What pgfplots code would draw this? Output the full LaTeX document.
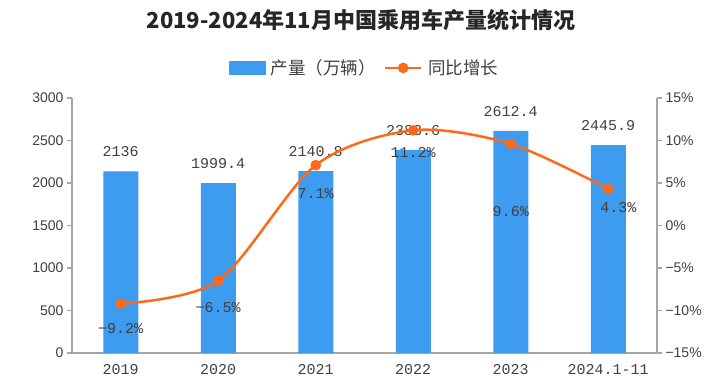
\documentclass[border=0pt]{standalone}
\usepackage{pgfplots}
\pgfplotsset{compat=1.18}
\usepackage{pgfplotstable}
\usepackage{fontspec}
\setmainfont{Liberation Sans}
\newfontfamily\cjk{Noto Sans CJK SC}
\newfontfamily\mono{Liberation Mono}
\definecolor{barblue}{HTML}{3D9BF0}
\definecolor{lineorange}{HTML}{FF6A1A}
\definecolor{axisgray}{HTML}{A6A6A6}
\definecolor{txt}{HTML}{404040}

\pgfplotstableread{
x y lab
0 2136 2136
1 1999.4 1999.4
2 2140.8 2140.8
3 2388.6 2388.6
4 2612.4 2612.4
5 2445.9 2445.9
}\prodtable

\pgfplotstableread{
x y dy dx lab
0 -9.2 -25 0 −9.2\%
1 -6.5 -27 0 −6.5\%
2 7.1 -28 0 7.1\%
3 11.2 -22 0 11.2\%
4 9.6 -68 0 9.6\%
5 4.3 -19 10 4.3\%
}\growtable

\begin{document}
\begin{tikzpicture}[x=1pt,y=1pt]
\useasboundingbox (0,0) rectangle (720,386);
\begin{axis}[
  at={(72pt,33pt)}, anchor=south west,
  scale only axis, width=585pt, height=255pt,
  xmin=-0.5, xmax=5.5, ymin=0, ymax=3000,
  axis x line*=bottom, axis y line*=left,
  axis line style={axisgray, line width=1.5pt, -},
  ytick={0,500,...,3000},
  yticklabels={0,500,1000,1500,2000,2500,3000},
  xtick={0,...,5},
  xticklabels={2019,2020,2021,2022,2023,2024.1-11},
  tick align=outside,
  major tick length=5pt,
  ytick style={axisgray, line width=1.2pt},
  xtick style={draw=none},
  yticklabel style={font=\fontsize{14}{14}\selectfont, text=txt},
  xticklabel style={font=\mono\fontsize{15}{15}\selectfont, text=txt, yshift=-3pt},
  clip=false,
]
\addplot[ybar, bar width=35pt, fill=barblue, draw=none,
  point meta=explicit symbolic,
  nodes near coords,
  every node near coord/.append style={font=\mono\fontsize{15}{15}\selectfont, text=txt, anchor=south, yshift=11pt},
] table[x=x, y=y, meta=lab] {\prodtable};
\end{axis}
\begin{axis}[
  at={(72pt,33pt)}, anchor=south west,
  scale only axis, width=585pt, height=255pt,
  xmin=-0.5, xmax=5.5, ymin=-15, ymax=15,
  axis x line=none, axis y line*=right,
  axis line style={axisgray, line width=1.5pt, -},
  ytick={-15,-10,...,15},
  yticklabels={−15\%,−10\%,−5\%,0\%,5\%,10\%,15\%},
  tick align=outside,
  major tick length=5pt,
  ytick style={axisgray, line width=1.2pt},
  yticklabel style={font=\fontsize{14}{14}\selectfont, text=txt},
  clip=false,
  legend columns=2,
  legend style={at={(0.5,1.118)}, anchor=center, draw=none, fill=none,
    font=\cjk\fontsize{17.5}{17.5}\selectfont, text=txt,
    /tikz/every even column/.append style={column sep=6pt},
    /tikz/every odd column/.append style={column sep=4pt}},
]
\addlegendimage{legend image code/.code={\fill[barblue] (0pt,-6.5pt) rectangle (36pt,6.5pt);}}
\addlegendentry{产量（万辆）}
\addplot[smooth, lineorange, line width=2.5pt, mark=*, mark size=4pt,
  mark options={fill=lineorange, draw=lineorange},
  legend image code/.code={\draw[lineorange, line width=2.5pt] (0pt,0pt) -- (36pt,0pt); \fill[lineorange] (18pt,0pt) circle (4pt);},
  point meta=explicit symbolic,
  visualization depends on={\thisrow{dy}\as\labdy},
  visualization depends on={\thisrow{dx}\as\labdx},
  nodes near coords,
  every node near coord/.append style={font=\mono\fontsize{15}{15}\selectfont, text=txt, anchor=center, yshift=\labdy pt, xshift=\labdx pt},
] table[x=x, y=y, meta=lab] {\growtable};
\addlegendentry{同比增长}
\end{axis}
\node[font=\cjk\bfseries\fontsize{22}{22}\selectfont, text=black!85] at (361,366) {2019-2024年11月中国乘用车产量统计情况};
\end{tikzpicture}
\end{document}
